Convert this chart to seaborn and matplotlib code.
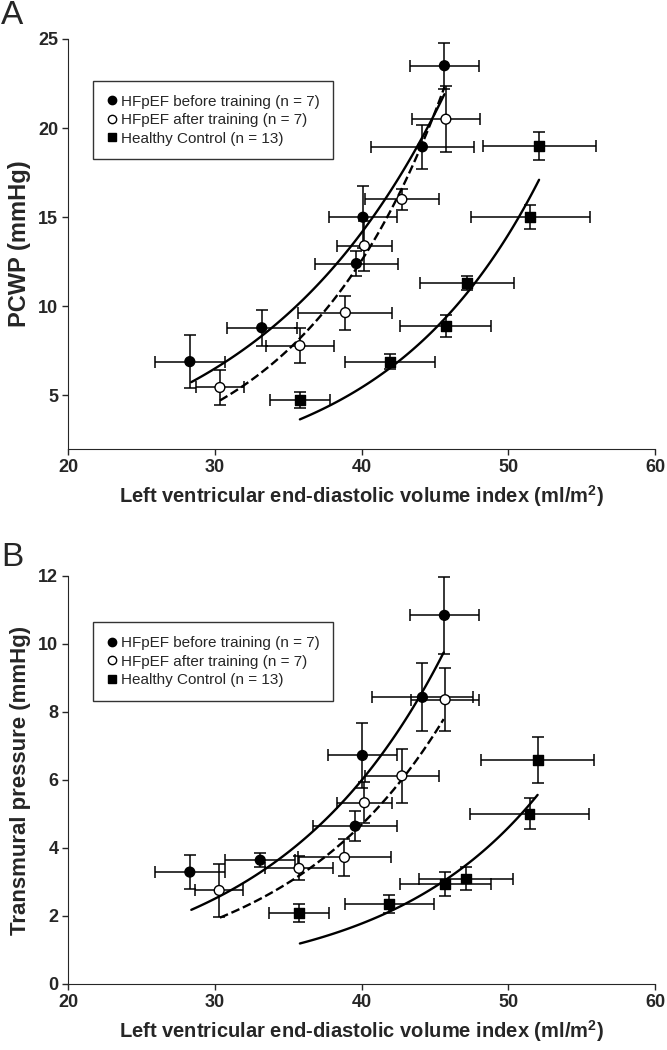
import numpy as np
import pandas as pd
import matplotlib
matplotlib.use("Agg")
import matplotlib.pyplot as plt
import seaborn as sns
from matplotlib.lines import Line2D

# ---- data ----
groups = ["HFpEF before training (n = 7)", "HFpEF after training (n = 7)", "Healthy Control (n = 13)"]

# panel A: PCWP
a_before_x = [28.3, 33.2, 39.65, 40.1, 44.15, 45.65]
a_before_y = [6.9, 8.8, 12.4, 15.0, 18.95, 23.5]
a_before_xerr = [2.4, 2.4, 2.85, 2.3, 3.5, 2.35]
a_before_yerr = [1.5, 1.0, 0.7, 1.75, 1.25, 1.3]

a_after_x = [30.35, 35.8, 38.9, 40.2, 42.75, 45.75]
a_after_y = [5.45, 7.8, 9.65, 13.4, 16.0, 20.5]
a_after_xerr = [1.65, 2.3, 3.2, 1.85, 2.5, 2.3]
a_after_yerr = [1.0, 1.0, 0.95, 1.4, 0.6, 1.85]

a_ctrl_x = [35.8, 41.95, 45.75, 47.2, 51.5, 52.1]
a_ctrl_y = [4.75, 6.9, 8.9, 11.3, 15.0, 19.0]
a_ctrl_xerr = [2.05, 3.05, 3.1, 3.2, 4.05, 3.85]
a_ctrl_yerr = [0.45, 0.4, 0.6, 0.4, 0.67, 0.8]

# exponential fit curves (x start, x end, y at start, y at end)
a_fit_before = (28.4, 45.65, 5.75, 21.9)
a_fit_after = (30.35, 45.65, 4.72, 22.3)
a_fit_ctrl = (35.8, 52.1, 3.66, 17.1)

# panel B: transmural pressure
b_before_x = [28.3, 33.1, 39.57, 40.06, 44.15, 45.65]
b_before_y = [3.29, 3.64, 4.64, 6.72, 8.43, 10.84]
b_before_xerr = [2.4, 2.4, 2.85, 2.35, 3.45, 2.35]
b_before_yerr = [0.5, 0.2, 0.44, 0.96, 1.0, 1.14]

b_after_x = [30.3, 35.74, 38.84, 40.2, 42.75, 45.7]
b_after_y = [2.75, 3.40, 3.72, 5.33, 6.12, 8.36]
b_after_xerr = [1.65, 2.35, 3.2, 1.9, 2.5, 2.3]
b_after_yerr = [0.77, 0.35, 0.55, 0.6, 0.8, 0.92]

b_ctrl_x = [35.74, 41.9, 45.7, 47.1, 51.45, 52.0]
b_ctrl_y = [2.08, 2.35, 2.93, 3.10, 5.01, 6.58]
b_ctrl_xerr = [2.05, 3.05, 3.1, 3.2, 4.05, 3.85]
b_ctrl_yerr = [0.27, 0.26, 0.35, 0.33, 0.45, 0.68]

b_fit_before = (28.4, 45.6, 2.18, 9.75)
b_fit_after = (30.35, 45.6, 1.95, 7.79)
b_fit_ctrl = (35.8, 52.0, 1.19, 5.56)

xlabel = "Left ventricular end-diastolic volume index (ml/m$^\\mathregular{2}$)"

sns.set_style("ticks")
plt.rcParams['font.family'] = ['Liberation Sans', 'DejaVu Sans']


def exp_curve(fit):
    x0, x1, y0, y1 = fit
    xs = np.linspace(x0, x1, 100)
    b = np.log(y1 / y0) / (x1 - x0)
    return xs, y0 * np.exp(b * (xs - x0))


def draw_panel(ax, series, fits, ylim, yticks, ylabel, ylabel_size, leg_top):
    rows = []
    for g, (x, y, xe, ye) in zip(groups, series):
        ax.errorbar(x, y, xerr=xe, yerr=ye, fmt='none', ecolor='black',
                    elinewidth=1.1, capsize=4, capthick=1.1, zorder=2)
        for xi, yi in zip(x, y):
            rows.append({'x': xi, 'y': yi, 'group': g})
    df = pd.DataFrame(rows)

    styles = ['-', '--', '-']
    for fit, ls in zip(fits, styles):
        xs, ys = exp_curve(fit)
        sns.lineplot(x=xs, y=ys, ax=ax, color='black', linewidth=1.7,
                     linestyle=ls, zorder=3)

    sns.scatterplot(data=df, x='x', y='y', hue='group', style='group',
                    palette={groups[0]: 'black', groups[1]: 'white', groups[2]: 'black'},
                    markers={groups[0]: 'o', groups[1]: 'o', groups[2]: 's'},
                    edgecolor='black', linewidth=1.0, s=50, ax=ax, legend=False, zorder=4)

    ax.set_xlim(20, 60)
    ax.set_ylim(*ylim)
    ax.set_xticks([20, 30, 40, 50, 60])
    ax.set_yticks(yticks)
    sns.despine(ax=ax)
    ax.tick_params(axis='both', labelsize=13, length=4, width=1, pad=3)
    for lab in ax.get_xticklabels() + ax.get_yticklabels():
        lab.set_fontweight('bold')
    ax.set_xlabel(xlabel, fontsize=14.5, fontweight='bold', labelpad=5)
    ax.set_ylabel(ylabel, fontsize=ylabel_size, fontweight='bold', labelpad=5)

    handles = [
        Line2D([], [], marker='o', color='none', markerfacecolor='black', markeredgecolor='black', markersize=6),
        Line2D([], [], marker='o', color='none', markerfacecolor='white', markeredgecolor='black', markersize=6),
        Line2D([], [], marker='s', color='none', markerfacecolor='black', markeredgecolor='black', markersize=5.5),
    ]
    leg = ax.legend(handles, groups, loc='upper left', bbox_to_anchor=(0.043, leg_top),
                    borderaxespad=0, fontsize=11, frameon=True, fancybox=False, edgecolor='black',
                    handlelength=0.6, handletextpad=0.3, borderpad=0.9, labelspacing=0.3)
    leg.get_frame().set_linewidth(1.0)


fig = plt.figure(figsize=(6.67, 10.5), dpi=100)
axA = fig.add_axes([0.102, 0.5724, 0.880, 0.3905])
axB = fig.add_axes([0.102, 0.0629, 0.880, 0.3886])

draw_panel(axA,
           [(a_before_x, a_before_y, a_before_xerr, a_before_yerr),
            (a_after_x, a_after_y, a_after_xerr, a_after_yerr),
            (a_ctrl_x, a_ctrl_y, a_ctrl_xerr, a_ctrl_yerr)],
           [a_fit_before, a_fit_after, a_fit_ctrl],
           (2.0, 25), [5, 10, 15, 20, 25], "PCWP (mmHg)", 17, 0.898)

draw_panel(axB,
           [(b_before_x, b_before_y, b_before_xerr, b_before_yerr),
            (b_after_x, b_after_y, b_after_xerr, b_after_yerr),
            (b_ctrl_x, b_ctrl_y, b_ctrl_xerr, b_ctrl_yerr)],
           [b_fit_before, b_fit_after, b_fit_ctrl],
           (0, 12), [0, 2, 4, 6, 8, 10, 12], "Transmural pressure (mmHg)", 16, 0.886)

fig.text(0.002, 0.985, "A", fontsize=24, va='center', ha='left')
fig.text(0.002, 0.4695, "B", fontsize=24, va='center', ha='left')

fig.savefig("out.png", dpi=100)
